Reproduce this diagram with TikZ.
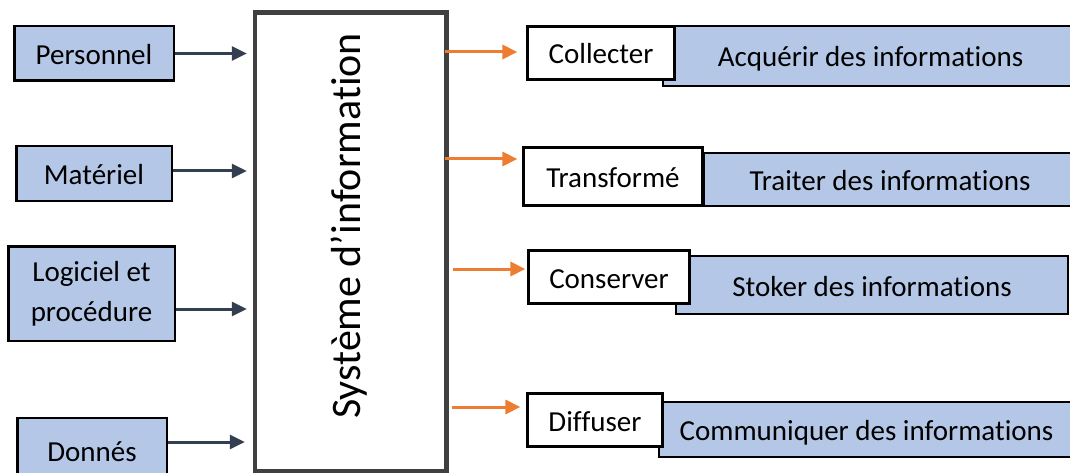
\documentclass[tikz,border=0pt]{standalone}
\usepackage{fontspec}
\setmainfont{Carlito}[Ligatures={NoCommon}]
\usetikzlibrary{arrows.meta,calc}
\definecolor{boxblue}{HTML}{B4C7E7}
\definecolor{innavy}{HTML}{333F50}
\definecolor{outorange}{HTML}{ED7D31}
\definecolor{framegray}{HTML}{404040}

\begin{document}
\begin{tikzpicture}[x=1pt,y=-1pt,
  lblfont/.style={font=\fontsize{29pt}{40pt}\selectfont},
  lbl/.style={lblfont, text height=22pt, text depth=0pt},
  srcframe/.style={draw=black, line width=2.5pt, fill=boxblue, inner sep=0pt},
  srcbox/.style={srcframe, lbl},
  actbox/.style={draw=black, line width=3.2pt, fill=white, inner sep=0pt, lbl},
  taskbox/.style={draw=black, line width=2pt, fill=boxblue, inner sep=0pt, lbl},
  sysbox/.style={draw=framegray, line width=4.5pt, fill=white, inner sep=0pt},
  systext/.style={font=\fontsize{42pt}{50pt}\selectfont, text height=27pt, text depth=0pt, inner sep=0pt, rotate=90},
  inarrow/.style={draw=innavy, line width=3pt, -{Triangle[length=15pt,width=14pt]}},
  outarrow/.style={draw=outorange, line width=3pt, -{Triangle[length=15pt,width=14pt]}},
]
\useasboundingbox (0,0) rectangle (1070,473);
\clip (0,0) rectangle (1070,473);

% inputs of the information system
\node[srcbox, minimum width=159.5pt, minimum height=54.5pt] (pers) at (94,53.5) {Personnel};
\node[srcbox, minimum width=155.5pt, minimum height=54.5pt] (mat) at (94,173.5) {Matériel};
\node[srcframe, lblfont, minimum width=166.5pt, minimum height=94.5pt, align=center] (log) at (91.5,293.5) {Logiciel et\\procédure};
\node[srcbox, minimum width=149.5pt, minimum height=64pt] (don) at (92,450) {Donnés};

% central block
\node[sysbox, minimum width=191.5pt, minimum height=458.5pt] (sys) at (350.75,241.75) {};
\node[systext] (systitle) at (347,226) {Système d’information};

% tasks (blue) drawn first, functions (white) on top
\node[taskbox, minimum width=415pt, minimum height=60pt] (acq) at (870.5,56) {Acquérir des informations};
\node[taskbox, minimum width=372pt, minimum height=53pt] (trt) at (890,179.5) {Traiter des informations};
\node[taskbox, minimum width=392pt, minimum height=58pt] (sto) at (872,285) {Stoker des informations};
\node[taskbox, minimum width=415pt, minimum height=55pt] (com) at (866.5,429.5) {Communiquer des informations};

\node[actbox, minimum width=146.8pt, minimum height=52.8pt] (col) at (601,53) {Collecter};
\node[actbox, minimum width=178.8pt, minimum height=57.8pt] (tra) at (613,176.5) {Transformé};
\node[actbox, minimum width=160.8pt, minimum height=52.8pt] (con) at (609,277) {Conserver};
\node[actbox, minimum width=134.8pt, minimum height=52.8pt] (dif) at (595,420) {Diffuser};

% incoming arrows
\coordinate (i1) at (pers.east);
\coordinate (i2) at ($(mat.east)+(0,-2.5)$);
\coordinate (i3) at ($(log.east)+(0,15.5)$);
\coordinate (i4) at ($(don.east)+(0,-8)$);
\draw[inarrow, shorten >=6pt] (i1) -- (i1 -| sys.west);
\draw[inarrow, shorten >=6pt] (i2) -- (i2 -| sys.west);
\draw[inarrow, shorten >=6pt] (i3) -- (i3 -| sys.west);
\draw[inarrow, shorten >=8pt] (i4) -- (i4 -| sys.west);

% outgoing arrows
\coordinate (o1) at ($(sys.east |- col.west)+(0,-1)$);
\coordinate (o2) at ($(sys.east |- tra.west)+(0,-17.5)$);
\coordinate (o3) at ($(sys.east |- con.west)+(0,-8)$);
\coordinate (o4) at ($(sys.east |- dif.west)+(0,-13)$);
\draw[outarrow, shorten <=-3.75pt, shorten >=8.6pt] (o1) -- (o1 -| col.west);
\draw[outarrow, shorten <=-3.75pt, shorten >=4.6pt] (o2) -- (o2 -| tra.west);
\draw[outarrow, shorten <=4.25pt, shorten >=1.6pt] (o3) -- (o3 -| con.west);
\draw[outarrow, shorten <=3.25pt, shorten >=5.6pt] (o4) -- (o4 -| dif.west);
\end{tikzpicture}
\end{document}
